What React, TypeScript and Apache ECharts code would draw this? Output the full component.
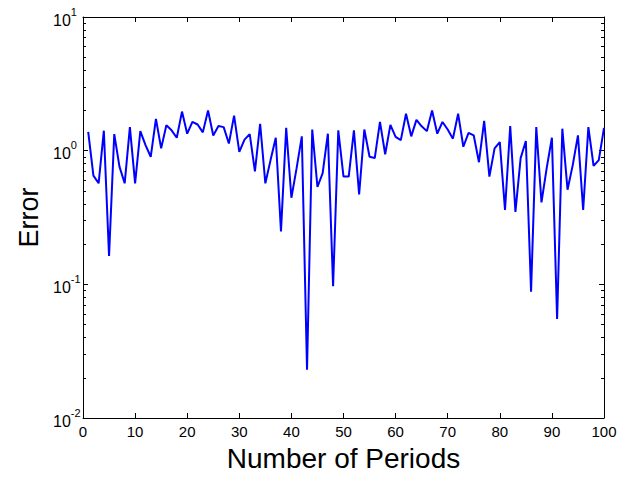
import React, { useEffect, useRef } from 'react';
import * as echarts from 'echarts';

const errors: number[] = [
  1.38, 0.65, 0.57, 1.41, 0.163, 1.33, 0.76, 0.57, 1.5, 0.57,
  1.4, 1.1, 0.9, 1.73, 1.04, 1.55, 1.42, 1.25, 1.96, 1.34,
  1.64, 1.57, 1.37, 2.0, 1.3, 1.53, 1.5, 1.13, 1.83, 0.98,
  1.21, 1.33, 0.7, 1.59, 0.57, 0.85, 1.25, 0.249, 1.48, 0.444,
  0.74, 1.28, 0.023, 1.44, 0.535, 0.68, 1.34, 0.097, 1.42, 0.64,
  0.64, 1.42, 0.47, 1.44, 0.9, 0.88, 1.64, 0.94, 1.56, 1.27,
  1.2, 1.89, 1.28, 1.7, 1.52, 1.4, 2.0, 1.34, 1.64, 1.44,
  1.23, 1.89, 1.07, 1.36, 1.3, 0.82, 1.67, 0.64, 1.04, 1.16,
  0.36, 1.53, 0.348, 0.88, 1.18, 0.088, 1.5, 0.41, 0.74, 1.25,
  0.055, 1.46, 0.51, 0.78, 1.3, 0.36, 1.5, 0.77, 0.85, 1.48,
];

const yMajor: number[] = [0.01, 0.1, 1, 10];
const yMinor: number[] = [
  0.02, 0.03, 0.04, 0.05, 0.06, 0.07, 0.08, 0.09,
  0.2, 0.3, 0.4, 0.5, 0.6, 0.7, 0.8, 0.9,
  2, 3, 4, 5, 6, 7, 8, 9,
];
const xMin = 0;
const xMax = 100;
const xInterval = 10;

const FONT = '"Liberation Sans", Arial, Helvetica, sans-serif';

export default function App() {
  const ref = useRef<HTMLDivElement>(null);

  useEffect(() => {
    document.body.style.margin = '0';
    const chart = echarts.init(ref.current!, null, { renderer: 'svg' });
    const lineStyle = { color: '#000', width: 1 };
    const yBase = (position: 'left' | 'right') => ({
      type: 'log' as const,
      logBase: 10,
      min: 0.01,
      max: 10,
      position,
      splitLine: { show: false },
      axisLine: { show: false },
      axisLabel: { show: false },
    });
    chart.setOption({
      animation: false,
      backgroundColor: '#fff',
      grid: { left: 83, right: 24, top: 17, bottom: 54, containLabel: false },
      xAxis: [
        {
          type: 'value',
          min: xMin,
          max: xMax,
          interval: xInterval,
          position: 'bottom',
          name: 'Number of Periods',
          nameLocation: 'middle',
          nameGap: 26,
          nameTextStyle: { fontFamily: FONT, fontSize: 28, color: '#000' },
          axisLine: { show: true, lineStyle },
          axisTick: { show: true, inside: true, length: 5, lineStyle },
          axisLabel: { fontFamily: FONT, fontSize: 15, color: '#000', margin: 6 },
          splitLine: { show: false },
        },
        {
          type: 'value',
          min: xMin,
          max: xMax,
          interval: xInterval,
          position: 'top',
          axisLine: { show: true, lineStyle },
          axisTick: { show: true, inside: true, length: 5, lineStyle },
          axisLabel: { show: false },
          splitLine: { show: false },
        },
      ],
      yAxis: [
        {
          ...yBase('left'),
          name: 'Error',
          nameLocation: 'middle',
          nameGap: 37,
          nameRotate: 90,
          nameTextStyle: { fontFamily: FONT, fontSize: 27, color: '#000' },
          axisLine: { show: true, lineStyle },
          axisTick: { show: true, inside: true, length: 5, lineStyle, customValues: yMajor },
          axisLabel: {
            show: true,
            customValues: yMajor,
            align: 'left',
            margin: 30,
            formatter: (v: number) => {
              const e = Math.round(Math.log10(v));
              return '{b|10}{s|' + e + '}';
            },
            rich: {
              b: { fontFamily: FONT, fontSize: 16, color: '#000', lineHeight: 22, verticalAlign: 'bottom' },
              s: { fontFamily: FONT, fontSize: 11, color: '#000', lineHeight: 6, verticalAlign: 'top' },
            },
          },
        },
        {
          ...yBase('left'),
          axisTick: { show: true, inside: true, length: 3, lineStyle, customValues: yMinor },
        },
        {
          ...yBase('right'),
          axisLine: { show: true, lineStyle },
          axisTick: { show: true, inside: true, length: 5, lineStyle, customValues: yMajor },
        },
        {
          ...yBase('right'),
          axisTick: { show: true, inside: true, length: 3, lineStyle, customValues: yMinor },
        },
      ],
      series: [
        {
          type: 'line',
          xAxisIndex: 0,
          yAxisIndex: 0,
          data: errors.map((v, i) => [i + 1, v]),
          showSymbol: false,
          symbol: 'none',
          lineStyle: { color: '#0000ff', width: 2 },
          itemStyle: { color: '#0000ff' },
        },
      ],
    });
    return () => chart.dispose();
  }, []);

  return <div ref={ref} style={{ width: 628, height: 477, background: '#fff' }} />;
}
